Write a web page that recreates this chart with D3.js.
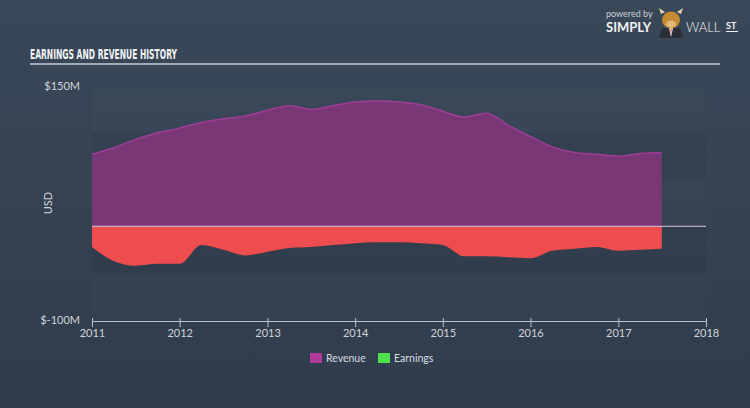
<!DOCTYPE html>
<html>
<head>
<meta charset="utf-8">
<script src="https://cdn.jsdelivr.net/npm/d3@7"></script>
<style>
  html, body { margin: 0; padding: 0; background: #323f4f; }
  svg { display: block; }
</style>
</head>
<body>
<div class="chart"></div>
<script>
// quarterly points, 2011 Q1 .. 2017 Q3 (values in $M)
const dates = ['2011-01-01','2011-04-01','2011-07-01','2011-10-01',
               '2012-01-01','2012-04-01','2012-07-01','2012-10-01',
               '2013-01-01','2013-04-01','2013-07-01','2013-10-01',
               '2014-01-01','2014-04-01','2014-07-01','2014-10-01',
               '2015-01-01','2015-04-01','2015-07-01','2015-10-01',
               '2016-01-01','2016-04-01','2016-07-01','2016-10-01',
               '2017-01-01','2017-04-01','2017-07-01'];
const revenue  = [77, 84, 93, 100, 105, 111, 115, 118, 124, 129, 125, 129, 133, 134,
                  133, 130, 123, 117, 121, 108, 96, 85, 79, 77, 75, 78, 79];
const earnings = [-22, -37, -42, -40, -40, -20, -25, -31, -27, -23, -22, -20, -18, -17,
                  -17, -18, -20, -32, -32, -33, -34, -26, -24, -22, -26, -25, -24];
const yTicks = [150, -100];
const xYears = [2011, 2012, 2013, 2014, 2015, 2016, 2017, 2018];
const legendItems = [{name: 'Revenue', color: '#b1399b'}, {name: 'Earnings', color: '#4ce24c'}];

const svg_width = 750, svg_height = 408;
const parseDate = d3.timeParse('%Y-%m-%d');
const data = dates.map((d, i) => ({date: parseDate(d), revenue: revenue[i], earnings: earnings[i]}));

const svg = d3.select('.chart').append('svg')
  .attr('width', svg_width).attr('height', svg_height);

// background gradient
const defs = svg.append('defs');
const grad = defs.append('linearGradient').attr('id', 'bg').attr('x1', 0).attr('y1', 0).attr('x2', 0).attr('y2', 1);
grad.append('stop').attr('offset', '0%').attr('stop-color', '#394859');
grad.append('stop').attr('offset', '100%').attr('stop-color', '#303c4b');
svg.append('rect').attr('width', svg_width).attr('height', svg_height).attr('fill', 'url(#bg)');

const xScale = d3.scaleTime()
  .domain([new Date(2011, 0, 1), new Date(2018, 0, 1)])
  .range([92, 706]);
const yScale = d3.scaleLinear().domain([-100, 150]).range([320, 86]);

// horizontal bands (very subtle)
const bandEdges = d3.range(-100, 151, 50);
svg.append('g').selectAll('rect').data(d3.pairs(bandEdges)).enter()
  .append('rect')
  .attr('x', xScale.range()[0]).attr('width', xScale.range()[1] - xScale.range()[0])
  .attr('y', d => yScale(d[1])).attr('height', d => yScale(d[0]) - yScale(d[1]))
  .attr('fill', (d, i) => i % 2 === 0 ? '#ffffff' : '#000000')
  .attr('fill-opacity', (d, i) => i % 2 === 0 ? 0.012 : 0.035);

// areas
const revArea = d3.area().x(d => xScale(d.date)).y0(yScale(0)).y1(d => yScale(d.revenue)).curve(d3.curveMonotoneX);
const revLine = d3.line().x(d => xScale(d.date)).y(d => yScale(d.revenue)).curve(d3.curveMonotoneX);
const earnArea = d3.area().x(d => xScale(d.date)).y0(yScale(0)).y1(d => yScale(d.earnings)).curve(d3.curveMonotoneX);

svg.append('path').datum(data).attr('d', revArea).attr('fill', '#7a3776');
svg.append('path').datum(data).attr('d', revLine).attr('fill', 'none')
  .attr('stroke', '#9e3d96').attr('stroke-width', 1.5);
svg.append('path').datum(data).attr('d', earnArea).attr('fill', '#ee4d4f');

// zero line
svg.append('line')
  .attr('x1', xScale.range()[0]).attr('x2', xScale.range()[1])
  .attr('y1', yScale(0)).attr('y2', yScale(0))
  .attr('stroke', '#d8c8d4').attr('stroke-opacity', 0.8).attr('stroke-width', 1.2);

// x axis
const xAxis = d3.axisBottom(xScale)
  .tickValues(xYears.map(y => new Date(y, 0, 1)))
  .tickFormat(d3.timeFormat('%Y'))
  .tickSizeInner(6).tickSizeOuter(0);
const xAxisDraw = svg.append('g').attr('transform', `translate(0,${321})`).call(xAxis);
xAxisDraw.select('.domain').attr('stroke', '#b9c0ca');
xAxisDraw.selectAll('.tick line').attr('stroke', '#b9c0ca').attr('y1', -3);
xAxisDraw.selectAll('text')
  .attr('fill', '#d0d4da').style('font-family', 'Lato, sans-serif').style('font-size', '11px').attr('dy', '0.6em');

// y labels
svg.append('g').selectAll('text').data(yTicks).enter().append('text')
  .attr('x', 80).attr('y', d => yScale(d)).attr('dy', '0.35em')
  .attr('text-anchor', 'end')
  .style('font-family', 'Lato, sans-serif').style('font-size', '11px')
  .attr('fill', '#d0d4da')
  .text(d => `$${d}M`);
svg.append('text')
  .attr('transform', `translate(52,${yScale(25)}) rotate(-90)`)
  .attr('text-anchor', 'middle')
  .style('font-family', 'Lato, sans-serif').style('font-size', '11px')
  .attr('fill', '#d0d4da').text('USD');

// title
svg.append('text').attr('x', 30).attr('y', 58.5)
  .style('font-family', '"DejaVu Sans Condensed", "Liberation Sans Narrow", sans-serif')
  .style('font-weight', 'bold').style('font-size', '14.5px')
  .attr('textLength', 147).attr('lengthAdjust', 'spacingAndGlyphs')
  .attr('fill', '#f2f3f5').text('EARNINGS AND REVENUE HISTORY');
svg.append('line').attr('x1', 30).attr('x2', 720).attr('y1', 64).attr('y2', 64)
  .attr('stroke', '#c7ccd4').attr('stroke-width', 1.5);

// legend
const legend = svg.append('g').attr('transform', 'translate(310,353)');
const legendX = [0, 68];
const li = legend.selectAll('g').data(legendItems).enter().append('g')
  .attr('transform', (d, i) => `translate(${legendX[i]},0)`);
li.append('rect').attr('width', 12).attr('height', 10).attr('fill', d => d.color);
li.append('text').attr('x', 16).attr('y', 9)
  .style('font-family', 'Lato, sans-serif').style('font-size', '10.5px')
  .attr('fill', '#d9dce1').text(d => d.name);

// logo
const logo = svg.append('g');
logo.append('text').attr('x', 606).attr('y', 17)
  .style('font-family', 'Lato, sans-serif').style('font-size', '9px')
  .attr('fill', '#c9ced6').text('powered by');
logo.append('text').attr('x', 606).attr('y', 32)
  .style('font-family', 'Lato, sans-serif').style('font-weight', 'bold').style('font-size', '13px')
  .attr('fill', '#f1f2f4').text('SIMPLY');
logo.append('path').attr('d', 'M659,38 L662,28 L680,28 L683,38 Z').attr('fill', '#2a2f38');
logo.append('path').attr('d', 'M669,28 L673,28 L671,37 Z').attr('fill', '#f1f2f4');
logo.append('path').attr('d', 'M670.3,29 L671.7,29 L671,35 Z').attr('fill', '#d24a3a');
logo.append('ellipse').attr('cx', 671).attr('cy', 20).attr('rx', 9).attr('ry', 8.5).attr('fill', '#c58a34');
logo.append('ellipse').attr('cx', 671).attr('cy', 24).attr('rx', 5).attr('ry', 3.5).attr('fill', '#e0b878');
logo.append('path').attr('d', 'M661,14 L659,8 L665,12 Z M681,14 L683,8 L677,12 Z').attr('fill', '#e6d2a8');
logo.append('text').attr('x', 686).attr('y', 32)
  .style('font-family', 'Lato, sans-serif').style('font-weight', '300').style('font-size', '13px')
  .attr('fill', '#f1f2f4').text('WALL');
logo.append('text').attr('x', 726).attr('y', 29)
  .style('font-family', 'Lato, sans-serif').style('font-weight', 'bold').style('font-size', '9px')
  .attr('fill', '#f1f2f4').text('ST');
logo.append('line').attr('x1', 726).attr('x2', 738).attr('y1', 31.5).attr('y2', 31.5)
  .attr('stroke', '#f1f2f4').attr('stroke-width', 1);
</script>
</body>
</html>
